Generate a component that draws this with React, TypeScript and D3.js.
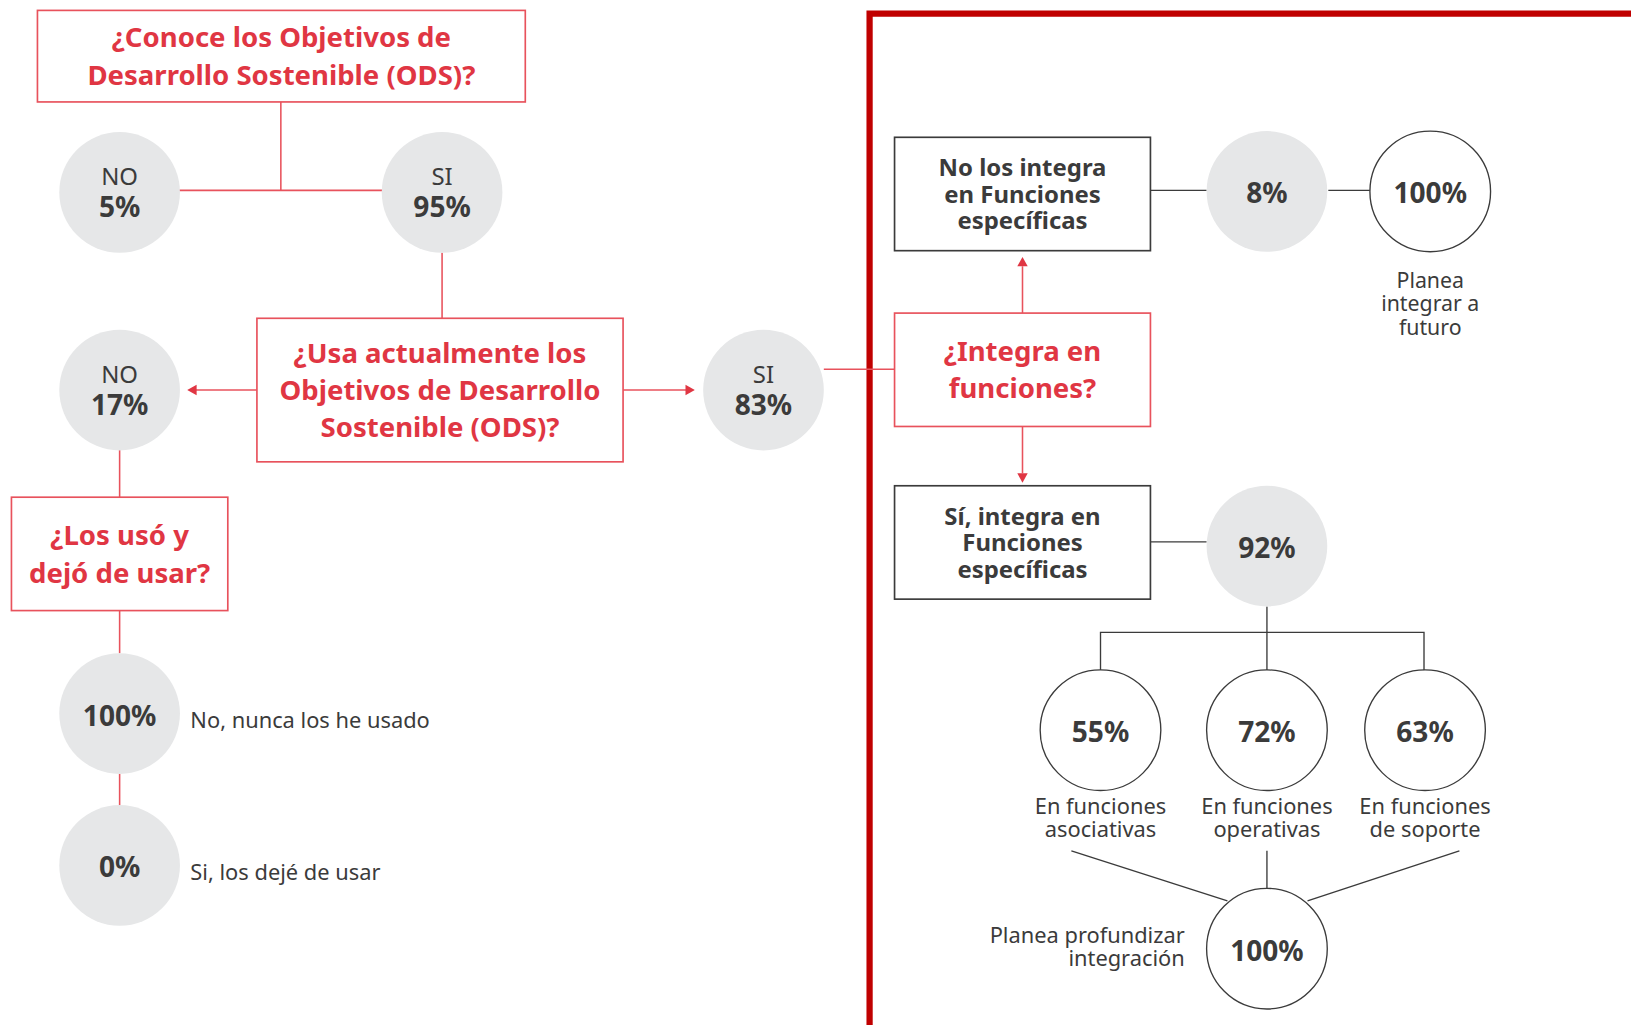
import React from "react";
import * as d3 from "d3";

// ---- data ----
const knowsODS = [
  { label: "NO", value: "5%" },
  { label: "SI", value: "95%" },
];
const usesODS = [
  { label: "NO", value: "17%" },
  { label: "SI", value: "83%" },
];
const stoppedUsing = [
  { value: "100%", label: "No, nunca los he usado" },
  { value: "0%", label: "Si, los dejé de usar" },
];
const integrates = [
  { value: "8%", box: ["No los integra", "en Funciones", "específicas"] },
  { value: "92%", box: ["Sí, integra en", "Funciones", "específicas"] },
];
const futureNo = { value: "100%", label: ["Planea", "integrar a", "futuro"] };
const functionsValues = ["55%", "72%", "63%"];
const functionsLabels = [
  ["En funciones", "asociativas"],
  ["En funciones", "operativas"],
  ["En funciones", "de soporte"],
];
const deepen = { value: "100%", label: ["Planea profundizar", "integración"] };
const questions = {
  q1: ["¿Conoce los Objetivos de", "Desarrollo Sostenible (ODS)?"],
  q2: ["¿Usa actualmente los", "Objetivos de Desarrollo", "Sostenible (ODS)?"],
  q3: ["¿Los usó y", "dejó de usar?"],
  q4: ["¿Integra en", "funciones?"],
};

const RED = "#e03643";
const REDLINE = "#e8525c";
const FRAME = "#c00000";
const DARK = "#3b3b3b";
const GREYFILL = "#e6e7e8";
const FONT = "'Noto Sans', sans-serif";
const K = 1631 / 1568;
const R = 58;

const line = d3.line<[number, number]>();

function Lines({ x, y, lines, size, weight, fill, dy, anchor = "middle" }: any) {
  const n = lines.length;
  return (
    <text
      textAnchor={anchor}
      fontFamily={FONT}
      fontSize={size}
      fontWeight={weight}
      fill={fill}
    >
      {lines.map((t: string, i: number) => (
        <tspan key={i} x={x} y={y + (i - (n - 1) / 2) * dy + size * 0.36}>
          {t}
        </tspan>
      ))}
    </text>
  );
}

function Circle({ cx, cy, filled, top, value }: any) {
  return (
    <g>
      <circle
        cx={cx}
        cy={cy}
        r={R}
        fill={filled ? GREYFILL : "#fff"}
        stroke={filled ? "none" : DARK}
        strokeWidth={1.3}
      />
      {top ? (
        <>
          <text x={cx} y={cy - 16} textAnchor="middle" dominantBaseline="central" fontFamily={FONT} fontSize={23} fill={DARK}>
            {top}
          </text>
          <text x={cx} y={cy + 13} textAnchor="middle" dominantBaseline="central" fontFamily={FONT} fontSize={27} fontWeight={700} fill={DARK}>
            {value}
          </text>
        </>
      ) : (
        <text x={cx} y={cy + 1} textAnchor="middle" dominantBaseline="central" fontFamily={FONT} fontSize={27} fontWeight={700} fill={DARK}>
          {value}
        </text>
      )}
    </g>
  );
}

function Box({ x0, y0, x1, y1, stroke, lines, fill, size, dy, weight = 700 }: any) {
  return (
    <g>
      <rect x={x0} y={y0} width={x1 - x0} height={y1 - y0} fill="#fff" stroke={stroke} strokeWidth={1.6} />
      <Lines x={(x0 + x1) / 2} y={(y0 + y1) / 2} lines={lines} size={size} weight={weight} fill={fill} dy={dy} />
    </g>
  );
}

function Seg({ pts, color = REDLINE, w = 1.5 }: any) {
  return <path d={line(pts) || ""} fill="none" stroke={color} strokeWidth={w} />;
}

function Arrow({ x, y, dir, color = RED }: any) {
  const s = 5;
  let p: [number, number][] = [];
  if (dir === "left") p = [[x, y], [x + 9, y - s], [x + 9, y + s]];
  if (dir === "right") p = [[x, y], [x - 9, y - s], [x - 9, y + s]];
  if (dir === "up") p = [[x, y], [x - s, y + 9], [x + s, y + 9]];
  if (dir === "down") p = [[x, y], [x - s, y - 9], [x + s, y - 9]];
  return <path d={(line(p) || "") + "Z"} fill={color} />;
}

export default function App() {
  return (
    <svg
      width={1631}
      height={1025}
      style={{ position: "absolute", left: 0, top: 0, background: "#fff" }}
    >
      <g transform={`scale(${K})`}>
        {/* red frame */}
        <path d={line([[836, 990], [836, 13], [1575, 13]]) || ""} fill="none" stroke={FRAME} strokeWidth={6} />

        {/* ---- left side ---- */}
        <Seg pts={[[270, 98], [270, 183]]} />
        <Seg pts={[[172, 183], [369, 183]]} />
        <Seg pts={[[425, 243], [425, 306]]} />
        <Seg pts={[[247, 375], [184, 375]]} />
        <Arrow x={180} y={375} dir="left" />
        <Seg pts={[[599, 375], [664, 375]]} />
        <Arrow x={668} y={375} dir="right" />
        <Seg pts={[[792, 355], [860, 355]]} />
        <Seg pts={[[115, 432], [115, 478]]} />
        <Seg pts={[[115, 587], [115, 628]]} />
        <Seg pts={[[115, 744], [115, 774]]} />

        <Box x0={36} y0={10} x1={505} y1={98} stroke={REDLINE} lines={questions.q1} fill={RED} size={26.5} dy={36} />
        <Circle cx={115} cy={185} filled top={knowsODS[0].label} value={knowsODS[0].value} />
        <Circle cx={425} cy={185} filled top={knowsODS[1].label} value={knowsODS[1].value} />

        <Box x0={247} y0={306} x1={599} y1={444} stroke={REDLINE} lines={questions.q2} fill={RED} size={26.5} dy={36} />
        <Circle cx={115} cy={375} filled top={usesODS[0].label} value={usesODS[0].value} />
        <Circle cx={734} cy={375} filled top={usesODS[1].label} value={usesODS[1].value} />

        <Box x0={11} y0={478} x1={219} y1={587} stroke={REDLINE} lines={questions.q3} fill={RED} size={26.5} dy={36} />

        {stoppedUsing.map((d, i) => {
          const cy = [686, 832][i];
          return (
            <g key={i}>
              <Circle cx={115} cy={cy} filled value={d.value} />
              <text x={183} y={cy + 6} dominantBaseline="central" fontFamily={FONT} fontSize={21} fill={DARK}>
                {d.label}
              </text>
            </g>
          );
        })}

        {/* ---- right side ---- */}
        <Seg pts={[[1106, 183], [1160, 183]]} color={DARK} w={1.3} />
        <Seg pts={[[1277, 183], [1317, 183]]} color={DARK} w={1.3} />
        <Seg pts={[[983, 301], [983, 256]]} />
        <Arrow x={983} y={247} dir="up" />
        <Seg pts={[[983, 410], [983, 455]]} />
        <Arrow x={983} y={464} dir="down" />
        <Seg pts={[[1106, 521], [1160, 521]]} color={DARK} w={1.3} />
        <Seg pts={[[1218, 583], [1218, 645]]} color={DARK} w={1.3} />
        <Seg pts={[[1058, 645], [1058, 608], [1369, 608], [1369, 645]]} color={DARK} w={1.3} />
        <Seg pts={[[1030, 818], [1180, 866]]} color={DARK} w={1.3} />
        <Seg pts={[[1218, 818], [1218, 854]]} color={DARK} w={1.3} />
        <Seg pts={[[1403, 818], [1257, 866]]} color={DARK} w={1.3} />

        <Box x0={860} y0={132} x1={1106} y1={241} stroke={DARK} lines={integrates[0].box} fill={DARK} size={23} dy={25.5} />
        <Circle cx={1218} cy={184} filled value={integrates[0].value} />
        <Circle cx={1375} cy={184} value={futureNo.value} />
        <Lines x={1375} y={292} lines={futureNo.label} size={20.5} weight={400} fill={DARK} dy={22.5} />

        <Box x0={860} y0={301} x1={1106} y1={410} stroke={REDLINE} lines={questions.q4} fill={RED} size={26.5} dy={36} />

        <Box x0={860} y0={467} x1={1106} y1={576} stroke={DARK} lines={integrates[1].box} fill={DARK} size={23} dy={25.5} />
        <Circle cx={1218} cy={525} filled value={integrates[1].value} />

        {functionsValues.map((v, i) => {
          const cx = [1058, 1218, 1370][i];
          return (
            <g key={i}>
              <Circle cx={cx} cy={702} value={v} />
              <Lines x={cx} y={786} lines={functionsLabels[i]} size={21} weight={400} fill={DARK} dy={22.5} />
            </g>
          );
        })}

        <Circle cx={1218} cy={912} value={deepen.value} />
        <Lines x={1139} y={910} lines={deepen.label} size={21} weight={400} fill={DARK} dy={22.5} anchor="end" />
      </g>
    </svg>
  );
}
